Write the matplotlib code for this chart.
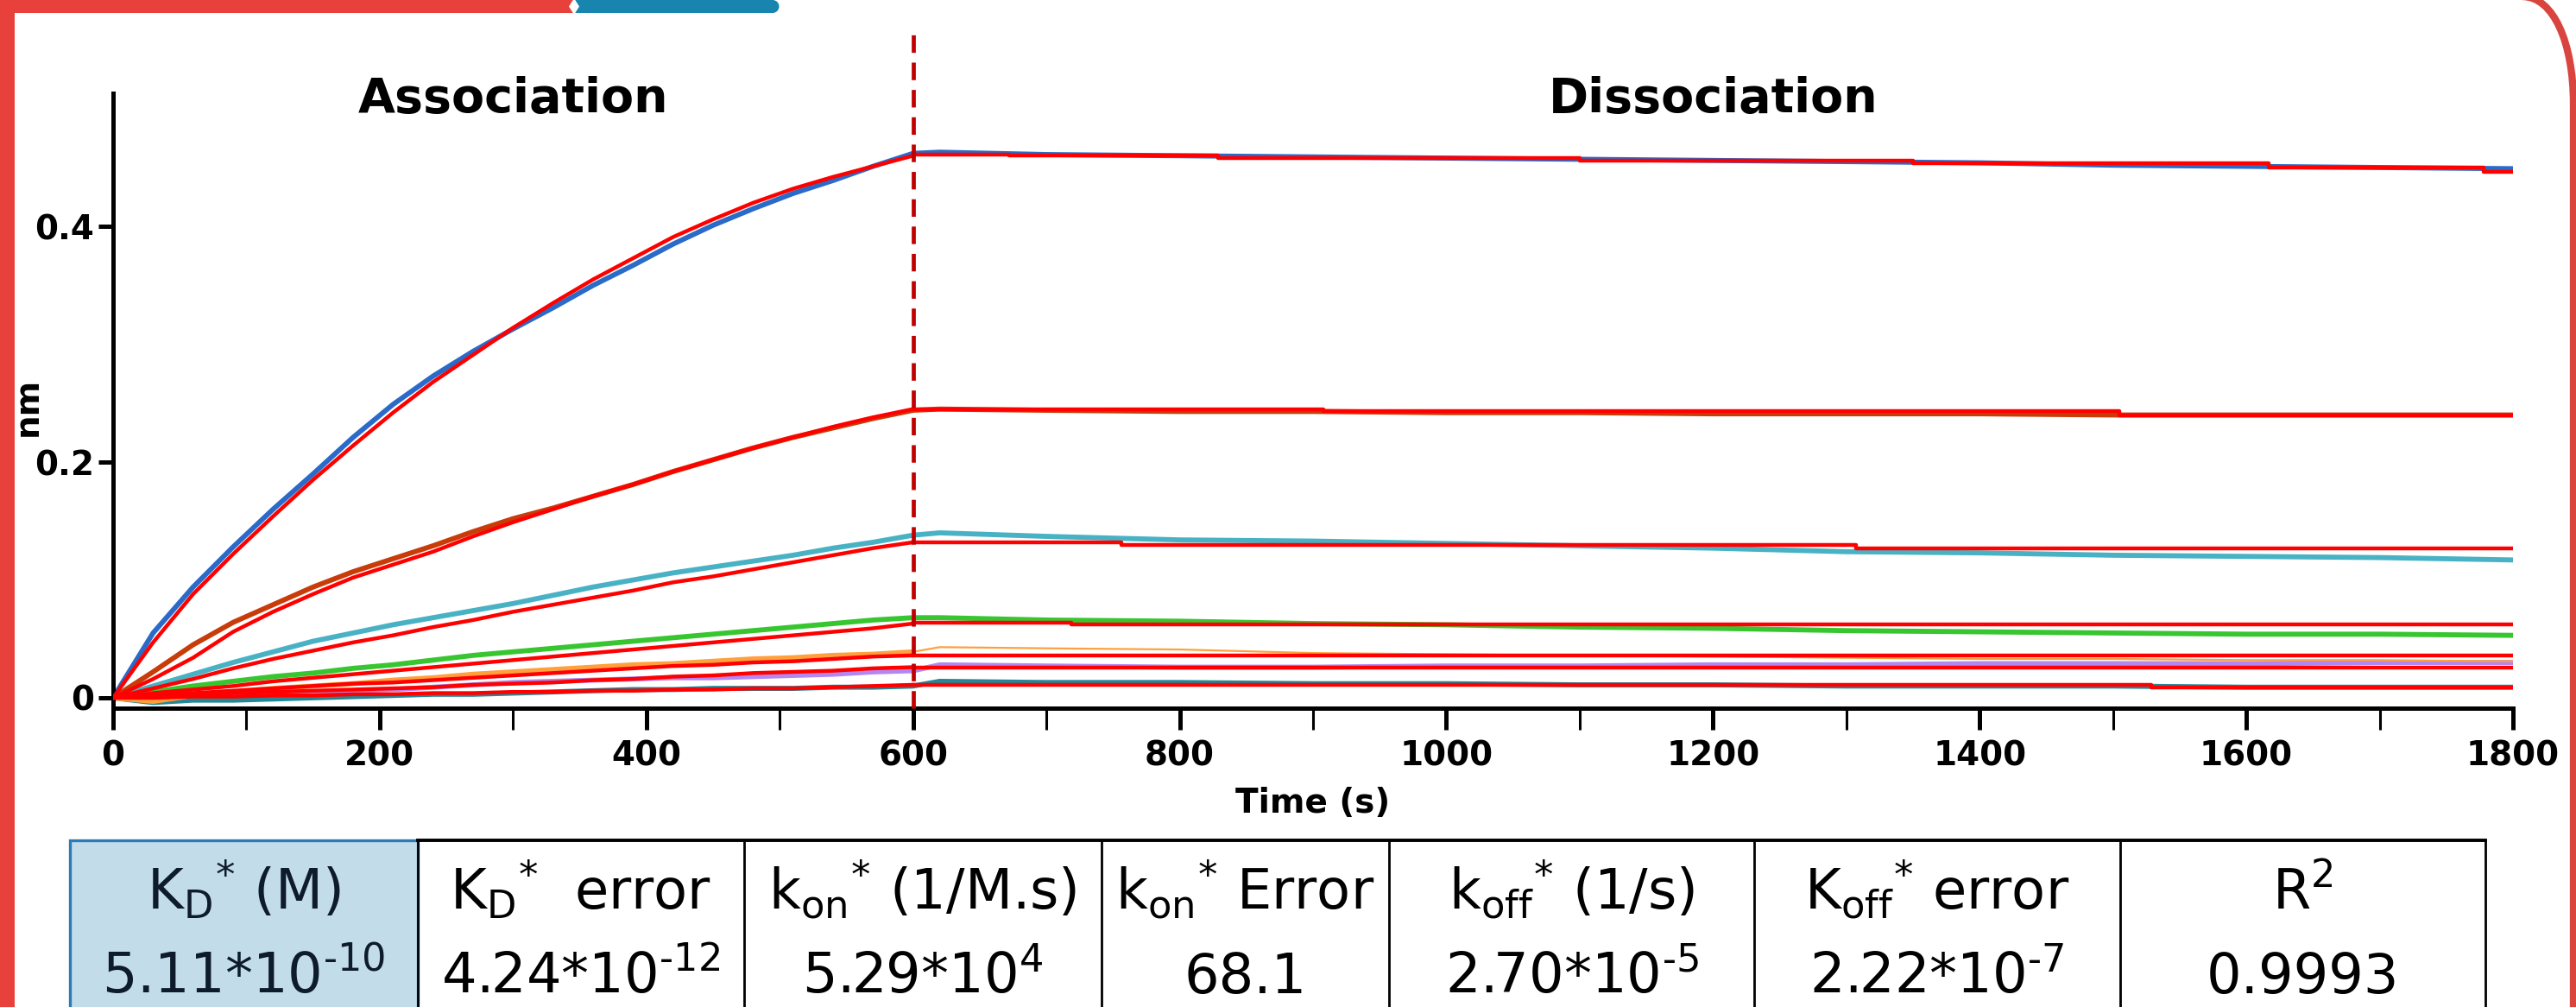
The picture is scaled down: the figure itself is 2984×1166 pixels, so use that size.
##load libraries
import numpy as np
import matplotlib.pyplot as plt
from matplotlib.patches import Rectangle, Polygon, Circle, PathPatch
from matplotlib.path import Path

##time grids (s)
t_assoc = list(range(0, 601, 30))
t_dissoc = [620, 700, 800, 900, 1000, 1100, 1200, 1300, 1400, 1500, 1600, 1700, 1800]

##sensor traces - association phase (nm)
blue_on = [0, 0.055, 0.094, 0.128, 0.160, 0.190, 0.221, 0.249, 0.273, 0.294, 0.313,
           0.331, 0.350, 0.367, 0.385, 0.401, 0.415, 0.428, 0.439, 0.451, 0.462]
brown_on = [0, 0.022, 0.045, 0.064, 0.079, 0.094, 0.107, 0.118, 0.129, 0.141, 0.152,
            0.161, 0.171, 0.181, 0.192, 0.202, 0.212, 0.221, 0.229, 0.237, 0.244]
cyan_on = [0, 0.010, 0.020, 0.030, 0.039, 0.048, 0.055, 0.062, 0.068, 0.074, 0.080,
           0.087, 0.094, 0.100, 0.106, 0.111, 0.116, 0.121, 0.127, 0.132, 0.138]
green_on = [0, 0.005, 0.010, 0.014, 0.018, 0.021, 0.025, 0.028, 0.032, 0.036, 0.039,
            0.042, 0.045, 0.048, 0.051, 0.054, 0.057, 0.060, 0.063, 0.066, 0.068]
orange_on = [0, -0.003, 0.002, 0.005, 0.008, 0.010, 0.012, 0.015, 0.017, 0.020, 0.022,
             0.024, 0.026, 0.028, 0.029, 0.031, 0.033, 0.034, 0.036, 0.037, 0.039]
purple_on = [0, 0.000, 0.001, 0.002, 0.003, 0.004, 0.006, 0.007, 0.009, 0.011, 0.013,
             0.014, 0.015, 0.016, 0.017, 0.017, 0.018, 0.019, 0.020, 0.022, 0.023]
teal_on = [0, -0.004, -0.002, -0.002, -0.001, 0.000, 0.001, 0.002, 0.003, 0.003, 0.004,
           0.005, 0.006, 0.007, 0.007, 0.008, 0.008, 0.008, 0.009, 0.009, 0.010]

##sensor traces - dissociation phase (nm)
blue_off = [0.463, 0.461, 0.460, 0.459, 0.458, 0.457, 0.456, 0.455, 0.454, 0.452, 0.451, 0.450, 0.449]
brown_off = [0.245, 0.244, 0.243, 0.243, 0.242, 0.242, 0.241, 0.241, 0.241, 0.240, 0.240, 0.240, 0.240]
cyan_off = [0.140, 0.137, 0.134, 0.133, 0.131, 0.129, 0.127, 0.124, 0.123, 0.121, 0.120, 0.119, 0.117]
green_off = [0.068, 0.066, 0.065, 0.063, 0.062, 0.060, 0.059, 0.057, 0.056, 0.055, 0.054, 0.054, 0.053]
orange_off = [0.043, 0.042, 0.041, 0.038, 0.037, 0.036, 0.035, 0.034, 0.033, 0.033, 0.032, 0.032, 0.031]
purple_off = [0.028, 0.027, 0.026, 0.026, 0.027, 0.027, 0.028, 0.028, 0.029, 0.029, 0.029, 0.030, 0.030]
teal_off = [0.014, 0.013, 0.013, 0.012, 0.012, 0.011, 0.011, 0.010, 0.010, 0.010, 0.009, 0.009, 0.009]

##global fit - association
blue_fit_on = [0, 0.047, 0.088, 0.122, 0.154, 0.185, 0.214, 0.242, 0.268, 0.291, 0.314,
               0.335, 0.355, 0.373, 0.391, 0.406, 0.420, 0.432, 0.442, 0.451, 0.460]
brown_fit_on = [0, 0.016, 0.034, 0.056, 0.073, 0.088, 0.102, 0.113, 0.124, 0.137, 0.149,
                0.160, 0.171, 0.181, 0.192, 0.202, 0.212, 0.221, 0.230, 0.238, 0.245]
cyan_fit_on = [0, 0.008, 0.016, 0.025, 0.033, 0.040, 0.047, 0.053, 0.060, 0.066, 0.073,
               0.079, 0.085, 0.091, 0.098, 0.103, 0.109, 0.115, 0.121, 0.127, 0.132]
green_fit_on = [0, 0.004, 0.007, 0.010, 0.014, 0.017, 0.020, 0.023, 0.026, 0.029, 0.032,
                0.035, 0.038, 0.041, 0.044, 0.047, 0.050, 0.053, 0.056, 0.059, 0.063]
orange_fit_on = [0, 0.002, 0.004, 0.006, 0.008, 0.010, 0.012, 0.013, 0.015, 0.017, 0.019,
                 0.021, 0.023, 0.025, 0.027, 0.028, 0.030, 0.031, 0.033, 0.035, 0.036]
purple_fit_on = [0, 0.001, 0.002, 0.004, 0.005, 0.006, 0.007, 0.008, 0.009, 0.011, 0.012,
                 0.013, 0.015, 0.016, 0.018, 0.019, 0.021, 0.022, 0.023, 0.025, 0.026]
teal_fit_on = [0, 0.000, 0.001, 0.001, 0.002, 0.002, 0.003, 0.003, 0.004, 0.004, 0.005,
               0.005, 0.006, 0.006, 0.007, 0.007, 0.008, 0.008, 0.009, 0.010, 0.011]

##global fit - dissociation (step times and levels)
blue_fit_off_t = [600, 672, 829, 1100, 1350, 1617, 1778, 1800]
blue_fit_off = [0.461, 0.460, 0.458, 0.456, 0.454, 0.450, 0.446, 0.446]
brown_fit_off_t = [600, 908, 1505, 1800]
brown_fit_off = [0.245, 0.243, 0.240, 0.240]
cyan_fit_off_t = [600, 756, 1307, 1800]
cyan_fit_off = [0.132, 0.130, 0.127, 0.127]
green_fit_off_t = [600, 719, 1800]
green_fit_off = [0.064, 0.062, 0.062]
orange_fit_off_t = [600, 1800]
orange_fit_off = [0.036, 0.036]
purple_fit_off_t = [600, 1800]
purple_fit_off = [0.026, 0.026]
teal_fit_off_t = [600, 1529, 1800]
teal_fit_off = [0.011, 0.009, 0.009]

##table contents
head_labels = [r'K$_\mathrm{D}$$^{*}$ (M)', r'K$_\mathrm{D}$$^{*}$  error', r'k$_\mathrm{on}$$^{*}$ (1/M.s)',
               r'k$_\mathrm{on}$$^{*}$ Error', r'k$_\mathrm{off}$$^{*}$ (1/s)', r'K$_\mathrm{off}$$^{*}$ error', r'R$^2$']
value_labels = ['5.11*10$^{\u201010}$', '4.24*10$^{\u201012}$', '5.29*10$^{4}$', '68.1',
                '2.70*10$^{\u20105}$', '2.22*10$^{\u20107}$', '0.9993']

##colours
c_blue = '#2a6ac8'
c_brown = '#c83c0a'
c_cyan = '#48b2c4'
c_green = '#38c630'
c_orange = '#ffa03c'
c_purple = '#b487f0'
c_teal = '#238896'
c_fit = '#ff0000'

W, H = 2984, 1166
fig = plt.figure(figsize=(W / 200, H / 200), dpi=200)

##main axes (pixel box 131..2911, 108..820)
ax = fig.add_axes([131 / W, 1 - 820 / H, 2780 / W, 712 / H])

##sensor traces
traces = [(blue_on, blue_off, c_blue), (brown_on, brown_off, c_brown), (cyan_on, cyan_off, c_cyan),
          (green_on, green_off, c_green), (purple_on, purple_off, c_purple), (teal_on, teal_off, c_teal)]
for on, off, col in traces:
    ax.plot(t_assoc + t_dissoc, on + off, color=col, lw=2.1, zorder=2, solid_joinstyle='round')
#orange is drawn thin after 600 s
ax.plot(t_assoc, orange_on, color=c_orange, lw=2.1, zorder=2)
ax.plot([600] + t_dissoc, [orange_on[-1]] + orange_off, color=c_orange, lw=0.8, zorder=2)

##fitted curves
for fon in [blue_fit_on, brown_fit_on, cyan_fit_on, green_fit_on, orange_fit_on, purple_fit_on, teal_fit_on]:
    ax.plot(t_assoc, fon, color=c_fit, lw=1.6, zorder=3)
for ft, fv in [(blue_fit_off_t, blue_fit_off), (brown_fit_off_t, brown_fit_off),
               (cyan_fit_off_t, cyan_fit_off), (green_fit_off_t, green_fit_off),
               (orange_fit_off_t, orange_fit_off), (purple_fit_off_t, purple_fit_off),
               (teal_fit_off_t, teal_fit_off)]:
    ax.plot(ft, fv, color=c_fit, lw=1.6, zorder=3, drawstyle='steps-post')

##association / dissociation boundary
ax.axvline(600, ymin=0, ymax=1.1, color='#c00000', lw=1.7, ls=(0, (4.3, 2.4)), clip_on=False, zorder=4)

##axes set up
ax.set_xlim(0, 1800)
ax.set_ylim(-0.0088, 0.513)
ax.spines['top'].set_visible(False)
ax.spines['right'].set_visible(False)
ax.spines['left'].set_linewidth(1.8)
ax.spines['bottom'].set_linewidth(1.8)
ax.set_xticks(np.arange(0, 1801, 200))
ax.set_xticks(np.arange(100, 1800, 200), minor=True)
ax.set_yticks([0, 0.2, 0.4])
ax.set_yticklabels(['0', '0.2', '0.4'])
ax.tick_params(axis='x', which='major', length=9, width=1.8, pad=4, labelsize=14)
ax.tick_params(axis='x', which='minor', length=9, width=1.1)
ax.tick_params(axis='y', which='major', length=6, width=1.8, pad=2, labelsize=14)
for lab in ax.get_xticklabels() + ax.get_yticklabels():
    lab.set_fontweight('bold')

ax.set_xlabel('Time (s)', fontsize=14, fontweight='bold', labelpad=6)
ax.set_ylabel('nm', fontsize=14, fontweight='bold')
ax.yaxis.set_label_coords(-0.029, 0.49)

ax.text(300, 0.508, 'Association', ha='center', va='center', fontsize=20, fontweight='bold')
ax.text(1200, 0.508, 'Dissociation', ha='center', va='center', fontsize=20, fontweight='bold')

##overlay in pixel coordinates for frame and table
over = fig.add_axes([0, 0, 1, 1], zorder=-1)
over.set_xlim(0, W)
over.set_ylim(H, 0)
over.axis('off')

#frame
frame_red = '#e8403a'
frame_blue = '#1785ae'
over.add_patch(Rectangle((0, 0), 665, 15, color=frame_red, lw=0))
over.add_patch(Rectangle((0, 0), 17, H, color=frame_red, lw=0))
over.add_patch(Rectangle((666, 0), 229, 15, color=frame_blue, lw=0))
over.add_patch(Circle((895, 7.5), 7.5, color=frame_blue, lw=0))
over.add_patch(Polygon([(659, 7.5), (665, -2), (671, 7.5), (665, 17)], color='white', lw=0))
corner = Path([(2922, -4), (2958, -4), (2981, 50), (2981, 120), (2981, H + 5)],
              [Path.MOVETO, Path.CURVE4, Path.CURVE4, Path.CURVE4, Path.LINETO])
over.add_patch(PathPatch(corner, fc='none', ec='#d9443f', lw=3.0))

#table
cols_x = [81, 484, 862, 1276, 1609, 2032, 2456, 2879]
tab_top = 973
over.add_patch(Rectangle((cols_x[0], tab_top), cols_x[1] - cols_x[0], H - tab_top + 20,
                         fc='#c2dcea', ec='#2b7bb5', lw=1.2, zorder=1))
over.plot([cols_x[1], cols_x[-1]], [tab_top, tab_top], color='k', lw=1.4, zorder=2)
for xc in cols_x[1:]:
    over.plot([xc, xc], [tab_top, H + 5], color='k', lw=1.0, zorder=2)
for i in range(len(head_labels)):
    xc = (cols_x[i] + cols_x[i + 1]) / 2
    tc = '#0d1b2a' if i == 0 else 'k'
    over.text(xc, 1053, head_labels[i], ha='center', va='baseline', fontsize=23, color=tc, zorder=3)
    over.text(xc, 1150, value_labels[i], ha='center', va='baseline', fontsize=23, color=tc, zorder=3)

fig.savefig('out.png', dpi=200)
